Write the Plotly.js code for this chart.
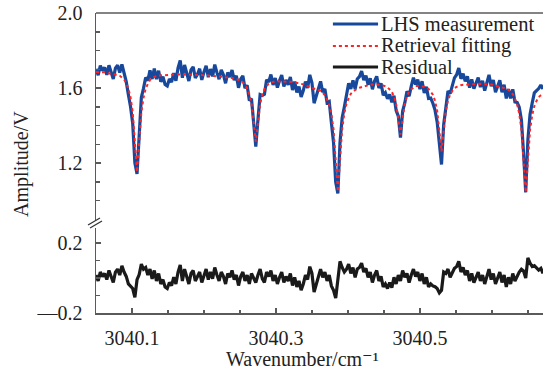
<!DOCTYPE html>
<html><head><meta charset="utf-8">
<script src="https://cdn.plot.ly/plotly-3.0.1.min.js"></script>
<style>html,body{margin:0;padding:0;background:#fff}#chart{width:543px;height:376px}</style>
</head><body><div id="chart"></div>
<script>
const wavenumberStart = 3040.05;
const wavenumberStep = 0.003;

const measured = [
1.702,1.668,1.719,1.693,1.710,1.670,1.721,1.686,1.648,1.706,
1.721,1.682,1.726,1.680,1.634,1.564,1.500,1.411,1.201,1.142,
1.331,1.550,1.598,1.656,1.639,1.694,1.648,1.703,1.647,1.692,
1.633,1.660,1.619,1.611,1.648,1.631,1.679,1.639,1.707,1.747,
1.655,1.723,1.680,1.637,1.697,1.713,1.653,1.673,1.703,1.643,
1.685,1.719,1.658,1.701,1.662,1.725,1.682,1.647,1.697,1.671,
1.625,1.683,1.659,1.696,1.642,1.665,1.601,1.647,1.665,1.599,
1.615,1.533,1.543,1.420,1.288,1.431,1.565,1.560,1.567,1.644,
1.632,1.672,1.616,1.653,1.602,1.640,1.669,1.608,1.643,1.617,
1.659,1.589,1.634,1.576,1.608,1.552,1.586,1.634,1.600,1.670,
1.628,1.519,1.561,1.607,1.635,1.578,1.595,1.522,1.528,1.416,
1.309,1.098,1.038,1.310,1.441,1.499,1.566,1.625,1.595,1.641,
1.595,1.648,1.661,1.690,1.642,1.666,1.618,1.652,1.593,1.637,
1.662,1.600,1.625,1.562,1.575,1.543,1.566,1.524,1.559,1.480,
1.450,1.335,1.477,1.520,1.583,1.556,1.610,1.655,1.619,1.645,
1.594,1.636,1.573,1.606,1.544,1.546,1.519,1.482,1.418,1.285,
1.192,1.404,1.505,1.584,1.570,1.618,1.654,1.671,1.707,1.649,
1.677,1.635,1.662,1.602,1.646,1.597,1.632,1.656,1.605,1.638,
1.586,1.629,1.670,1.609,1.643,1.577,1.613,1.641,1.577,1.617,
1.544,1.594,1.545,1.593,1.526,1.523,1.497,1.429,1.251,1.043,
1.323,1.459,1.520,1.574,1.586,1.597,1.616,1.595
];

const fitting = [
1.685,1.685,1.685,1.685,1.684,1.679,1.678,1.677,1.674,1.672,
1.670,1.665,1.656,1.646,1.625,1.598,1.550,1.471,1.311,1.152,
1.311,1.470,1.548,1.596,1.622,1.643,1.653,1.660,1.664,1.666,
1.667,1.669,1.670,1.671,1.674,1.674,1.674,1.673,1.673,1.672,
1.672,1.672,1.671,1.671,1.671,1.670,1.670,1.669,1.669,1.669,
1.668,1.668,1.667,1.667,1.666,1.665,1.665,1.664,1.663,1.662,
1.659,1.657,1.655,1.653,1.651,1.648,1.644,1.638,1.631,1.616,
1.598,1.567,1.517,1.416,1.314,1.414,1.514,1.564,1.593,1.610,
1.623,1.629,1.633,1.636,1.636,1.636,1.635,1.634,1.634,1.634,
1.633,1.632,1.630,1.627,1.625,1.622,1.620,1.617,1.609,1.605,
1.602,1.599,1.595,1.590,1.584,1.574,1.561,1.539,1.511,1.461,
1.379,1.213,1.048,1.215,1.381,1.465,1.516,1.545,1.569,1.581,
1.591,1.597,1.601,1.605,1.608,1.611,1.614,1.618,1.619,1.620,
1.619,1.617,1.616,1.613,1.609,1.603,1.592,1.579,1.555,1.514,
1.433,1.352,1.434,1.516,1.557,1.582,1.593,1.604,1.610,1.611,
1.611,1.610,1.607,1.602,1.595,1.580,1.564,1.532,1.478,1.370,
1.262,1.370,1.479,1.533,1.566,1.584,1.599,1.606,1.612,1.615,
1.617,1.618,1.619,1.619,1.620,1.623,1.623,1.622,1.622,1.621,
1.620,1.620,1.619,1.618,1.617,1.611,1.609,1.607,1.603,1.600,
1.595,1.590,1.579,1.567,1.543,1.514,1.463,1.379,1.211,1.043,
1.208,1.374,1.455,1.504,1.531,1.552,1.561,1.569
];

const residual = [
0.017,-0.017,0.034,0.008,0.026,-0.009,0.043,0.009,-0.026,0.034,
0.051,0.017,0.070,0.034,0.009,-0.034,-0.050,-0.060,-0.110,-0.010,
0.020,0.080,0.050,0.060,0.017,0.051,-0.005,0.043,-0.017,0.026,
-0.034,-0.009,-0.051,-0.060,-0.026,-0.043,0.005,-0.034,0.034,0.075,
-0.017,0.051,0.009,-0.034,0.026,0.043,-0.017,0.004,0.034,-0.026,
0.017,0.051,-0.009,0.034,-0.004,0.060,0.017,-0.017,0.034,0.009,
-0.034,0.026,0.004,0.043,-0.009,0.017,-0.043,0.009,0.034,-0.017,
0.017,-0.034,0.026,0.004,-0.026,0.017,0.051,-0.004,-0.026,0.034,
0.009,0.043,-0.017,0.017,-0.034,0.004,0.034,-0.026,0.009,-0.017,
0.026,-0.043,0.004,-0.051,-0.017,-0.070,-0.034,0.017,-0.009,0.065,
0.026,-0.080,-0.034,0.017,0.051,0.004,0.034,-0.017,0.017,-0.045,
-0.070,-0.115,-0.010,0.095,0.060,0.034,0.050,0.080,0.026,0.060,
0.004,0.051,0.060,0.085,0.034,0.055,0.004,0.034,-0.026,0.017,
0.043,-0.017,0.009,-0.051,-0.034,-0.060,-0.026,-0.055,0.004,-0.034,
0.017,-0.017,0.043,0.004,0.026,-0.026,0.017,0.051,0.009,0.034,
-0.017,0.026,-0.034,0.004,-0.051,-0.034,-0.045,-0.050,-0.060,-0.085,
-0.070,0.034,0.026,0.051,0.004,0.034,0.055,0.065,0.095,0.034,
0.060,0.017,0.043,-0.017,0.026,-0.026,0.009,0.034,-0.017,0.017,
-0.034,0.009,0.051,-0.009,0.026,-0.034,0.004,0.034,-0.026,0.017,
-0.051,0.004,-0.034,0.026,-0.017,0.009,0.034,0.050,0.040,0.000,
0.115,0.085,0.065,0.070,0.055,0.045,0.055,0.026
];

const seriesNames = ['LHS measurement', 'Retrieval fitting', 'Residual'];
const xLabelTickVals = [3040.1, 3040.3, 3040.5];
const xLabelTickText = ['3040.1', '3040.3', '3040.5'];
const xUnlabeledTickVals = [3040.2, 3040.4, 3040.6];
const yUpperTickVals = [1.2, 1.6, 2.0];
const yUpperTickText = ['1.2', '1.6', '2.0'];
const yLowerTickVals = [-0.2, 0.2];
const yLowerTickText = ['\u20140.2', '0.2'];
const xTitle = 'Wavenumber/cm\u207B\u00B9';
const yTitle = 'Amplitude/V';
const xRange = [3040.05, 3040.671];

const BLUE = '#17489c', RED = '#ff2424', BLACK = '#1a1a1a', AXIS = '#5a5a5a', TXT = '#222';
const FONT = 'Liberation Serif, DejaVu Serif, Times New Roman, serif';

const traces = [
  {type:'scatter', mode:'lines', name:seriesNames[0], x0:wavenumberStart, dx:wavenumberStep, y:measured,
   xaxis:'x', yaxis:'y', line:{color:BLUE, width:3.2}, showlegend:false},
  {type:'scatter', mode:'lines', name:seriesNames[1], x0:wavenumberStart, dx:wavenumberStep, y:fitting,
   xaxis:'x', yaxis:'y', line:{color:RED, width:2, dash:'dot'}, showlegend:false},
  {type:'scatter', mode:'lines', name:seriesNames[2], x0:wavenumberStart, dx:wavenumberStep, y:residual,
   xaxis:'x', yaxis:'y2', line:{color:BLACK, width:3.2}, showlegend:false}
];

const tickCommon = {ticks:'inside', tickcolor:AXIS, tickwidth:1.5, showline:true, linecolor:AXIS, linewidth:1.5,
  showgrid:false, zeroline:false, tickfont:{family:FONT, size:20, color:TXT}};

const legendRows = [0.963, 0.89, 0.82];
const legendStyles = [{color:BLUE, width:3}, {color:RED, width:2, dash:'dot'}, {color:BLACK, width:3}];

const shapes = [
  {type:'line', xref:'paper', yref:'paper', x0:0, x1:1, y0:1, y1:1, line:{color:AXIS, width:1.5}},
  {type:'line', xref:'paper', yref:'paper', x0:-0.0179, y0:0.2933, x1:0.0089, y1:0.3167, line:{color:'#333', width:1.3}},
  {type:'line', xref:'paper', yref:'paper', x0:-0.0134, y0:0.2833, x1:0.0134, y1:0.3067, line:{color:'#333', width:1.3}}
];
legendRows.forEach((y, k) => shapes.push({type:'line', xref:'paper', yref:'paper', x0:0.530, x1:0.631, y0:y, y1:y, line:legendStyles[k]}));

const annotations = legendRows.map((y, k) => ({xref:'paper', yref:'paper', x:0.636, y:y, xanchor:'left', yanchor:'middle',
  text:seriesNames[k], showarrow:false, borderpad:0, font:{family:FONT, size:20.5, color:TXT}}));
annotations.push({xref:'paper', yref:'paper', x:-0.1655, y:0.497, xanchor:'center', yanchor:'middle', textangle:-90,
  text:yTitle, showarrow:false, font:{family:FONT, size:20, color:TXT}});
annotations.push({xref:'paper', yref:'paper', x:0.4609, y:-0.1533, xanchor:'center', yanchor:'middle',
  text:xTitle, showarrow:false, font:{family:FONT, size:20, color:TXT}});

const layout = {
  width:543, height:376, margin:{l:96, r:0, t:13, b:63},
  paper_bgcolor:'#fff', plot_bgcolor:'#fff', showlegend:false,
  font:{family:FONT, size:20, color:TXT},
  xaxis: Object.assign({}, tickCommon, {anchor:'y2', range:xRange, tickmode:'array',
    tickvals:xLabelTickVals, ticktext:xLabelTickText, ticklen:5, ticklabelstandoff:6,
    minor:{dtick:0.05, tick0:3040.0, ticks:'inside', ticklen:3, tickcolor:AXIS, tickwidth:1.5}}),
  xaxis3: {overlaying:'x', anchor:'y2', range:xRange, tickmode:'array', tickvals:xUnlabeledTickVals,
    showticklabels:false, ticks:'inside', ticklen:5, tickcolor:AXIS, tickwidth:1.5,
    showline:false, showgrid:false, zeroline:false},
  yaxis: Object.assign({}, tickCommon, {anchor:'x', domain:[0.31, 1], range:[0.896, 2.0], tickmode:'array',
    tickvals:yUpperTickVals, ticktext:yUpperTickText, ticklen:5, ticklabelstandoff:8,
    minor:{dtick:0.1, tick0:0, ticks:'inside', ticklen:4, tickcolor:AXIS, tickwidth:1.5}}),
  yaxis2: Object.assign({}, tickCommon, {anchor:'x', domain:[0, 0.2833], range:[-0.2, 0.2857], tickmode:'array',
    tickvals:yLowerTickVals, ticktext:yLowerTickText, ticklen:5, ticklabelstandoff:8,
    minor:{dtick:0.1, tick0:0, ticks:'inside', ticklen:4, tickcolor:AXIS, tickwidth:1.5}}),
  shapes: shapes,
  annotations: annotations
};

Plotly.newPlot('chart', traces, layout, {displayModeBar:false, staticPlot:true});
</script></body></html>
